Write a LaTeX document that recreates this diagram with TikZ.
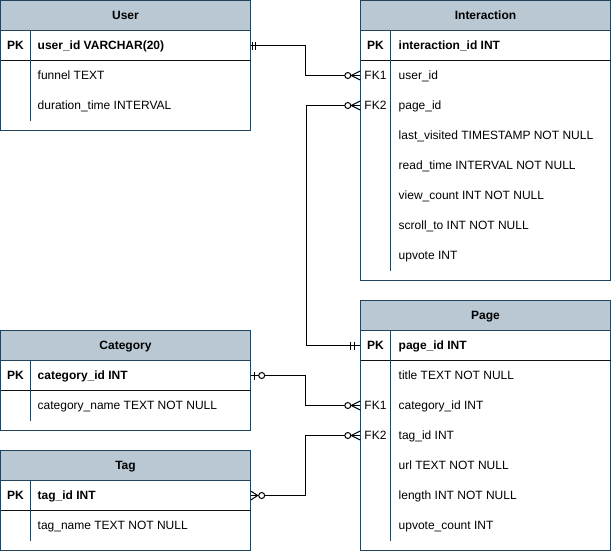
\documentclass[tikz,border=0pt]{standalone}
\usepackage{fontspec}
\setmainfont{Liberation Sans}
\definecolor{tblline}{HTML}{23445D}
\definecolor{hdrfill}{HTML}{BAC8D3}
\definecolor{sepline}{HTML}{111111}
\tikzset{
  tbl/.style={draw=tblline, line width=1pt},
  hdrbox/.style={tbl, fill=hdrfill},
  bodybox/.style={tbl, fill=white},
  sep/.style={draw=sepline, line width=1pt},
  divider/.style={draw=tblline, line width=1pt},
  rowbox/.style={draw=none, minimum width=250pt, minimum height=30pt, inner sep=0pt},
  txtbase/.style={inner sep=0pt, text height=8.6pt, text depth=0pt},
  titletxt/.style={txtbase, font=\bfseries\fontsize{12}{14}\selectfont},
  keytxt/.style={txtbase, font=\fontsize{12}{14}\selectfont},
  pkkey/.style={txtbase, font=\bfseries\fontsize{12}{14}\selectfont},
  fld/.style={txtbase, anchor=west, font=\fontsize{12}{14}\selectfont},
  pkfld/.style={fld, font=\bfseries\fontsize{12}{14}\selectfont},
  conn/.style={draw=black, line width=1pt},
  endmark/.style={draw=black, line width=1pt},
  ring/.style={draw=black, line width=1pt, fill=white},
}
\begin{document}
\begin{tikzpicture}[x=1pt,y=-1pt]
\useasboundingbox (0,0) rectangle (611,552);

% ---------------- User ----------------
\draw[bodybox] (0.5,30.5) rectangle (250.5,130.5);
\draw[hdrbox] (0.5,0.5) rectangle (250.5,30.5);
\draw[sep] (0.5,60.5) -- (250.5,60.5);
\draw[divider] (30.5,30.5) -- (30.5,60.5);
\draw[divider] (30.5,60.5) -- (30.5,120.5);
\node[titletxt] (u-title) at (125.5,15.5) {User};
\node[rowbox] (u-pk) at (125.5,45.5) {};
\node[pkkey] (u-pk-k) at (15.5,45.5) {PK};
\node[pkfld] (u-pk-f) at (37.5,45.5) {user\_id VARCHAR(20)};
\node[fld] (u-r1) at (37.5,75.5) {funnel TEXT};
\node[fld] (u-r2) at (37.5,105.5) {duration\_time INTERVAL};

% ---------------- Interaction ----------------
\draw[bodybox] (360.5,30.5) rectangle (610.5,280.5);
\draw[hdrbox] (360.5,0.5) rectangle (610.5,30.5);
\draw[sep] (360.5,60.5) -- (610.5,60.5);
\draw[divider] (390.5,30.5) -- (390.5,60.5);
\draw[divider] (390.5,60.5) -- (390.5,270.5);
\node[titletxt] (i-title) at (485.5,15.5) {Interaction};
\node[rowbox] (i-pk) at (485.5,45.5) {};
\node[pkkey] (i-pk-k) at (375.5,45.5) {PK};
\node[pkfld] (i-pk-f) at (398.5,45.5) {interaction\_id INT};
\node[rowbox] (i-fk1) at (485.5,75.5) {};
\node[keytxt] (i-fk1-k) at (375.5,75.5) {FK1};
\node[fld] (i-fk1-f) at (398.5,75.5) {user\_id};
\node[rowbox] (i-fk2) at (485.5,105.5) {};
\node[keytxt] (i-fk2-k) at (375.5,105.5) {FK2};
\node[fld] (i-fk2-f) at (398.5,105.5) {page\_id};
\node[fld] (i-r3) at (398.5,135.5) {last\_visited TIMESTAMP NOT NULL};
\node[fld] (i-r4) at (398.5,165.5) {read\_time INTERVAL NOT NULL};
\node[fld] (i-r5) at (398.5,195.5) {view\_count INT NOT NULL};
\node[fld] (i-r6) at (398.5,225.5) {scroll\_to INT NOT NULL};
\node[fld] (i-r7) at (398.5,255.5) {upvote INT};

% ---------------- Page ----------------
\draw[bodybox] (360.5,330.5) rectangle (610.5,550.5);
\draw[hdrbox] (360.5,300.5) rectangle (610.5,330.5);
\draw[sep] (360.5,360.5) -- (610.5,360.5);
\draw[divider] (390.5,330.5) -- (390.5,360.5);
\draw[divider] (390.5,360.5) -- (390.5,540.5);
\node[titletxt] (p-title) at (485.5,315.5) {Page};
\node[rowbox] (p-pk) at (485.5,345.5) {};
\node[pkkey] (p-pk-k) at (375.5,345.5) {PK};
\node[pkfld] (p-pk-f) at (398.5,345.5) {page\_id INT};
\node[fld] (p-r1) at (398.5,375.5) {title TEXT NOT NULL};
\node[rowbox] (p-fk1) at (485.5,405.5) {};
\node[keytxt] (p-fk1-k) at (375.5,405.5) {FK1};
\node[fld] (p-fk1-f) at (398.5,405.5) {category\_id INT};
\node[rowbox] (p-fk2) at (485.5,435.5) {};
\node[keytxt] (p-fk2-k) at (375.5,435.5) {FK2};
\node[fld] (p-fk2-f) at (398.5,435.5) {tag\_id INT};
\node[fld] (p-r4) at (398.5,465.5) {url TEXT NOT NULL};
\node[fld] (p-r5) at (398.5,495.5) {length INT NOT NULL};
\node[fld] (p-r6) at (398.5,525.5) {upvote\_count INT};

% ---------------- Category ----------------
\draw[bodybox] (0.5,360.5) rectangle (250.5,430.5);
\draw[hdrbox] (0.5,330.5) rectangle (250.5,360.5);
\draw[sep] (0.5,390.5) -- (250.5,390.5);
\draw[divider] (30.5,360.5) -- (30.5,390.5);
\draw[divider] (30.5,390.5) -- (30.5,420.5);
\node[titletxt] (c-title) at (125.5,345.5) {Category};
\node[rowbox] (c-pk) at (125.5,375.5) {};
\node[pkkey] (c-pk-k) at (15.5,375.5) {PK};
\node[pkfld] (c-pk-f) at (37.5,375.5) {category\_id INT};
\node[fld] (c-r1) at (37.5,405.5) {category\_name TEXT NOT NULL};

% ---------------- Tag ----------------
\draw[bodybox] (0.5,480.5) rectangle (250.5,550.5);
\draw[hdrbox] (0.5,450.5) rectangle (250.5,480.5);
\draw[sep] (0.5,510.5) -- (250.5,510.5);
\draw[divider] (30.5,480.5) -- (30.5,510.5);
\draw[divider] (30.5,510.5) -- (30.5,540.5);
\node[titletxt] (t-title) at (125.5,465.5) {Tag};
\node[rowbox] (t-pk) at (125.5,495.5) {};
\node[pkkey] (t-pk-k) at (15.5,495.5) {PK};
\node[pkfld] (t-pk-f) at (37.5,495.5) {tag\_id INT};
\node[fld] (t-r1) at (37.5,525.5) {tag\_name TEXT NOT NULL};

% ---------------- Connectors ----------------
\draw[conn] (u-pk.east) -- ++(55,0) |- (i-fk1.west);
\draw[conn] (i-fk2.west) -- ++(-54,0) |- (p-pk.west);
\draw[conn] (c-pk.east) -- ++(55,0) |- (p-fk1.west);
\draw[conn] (t-pk.east) -- ++(55,0) |- (p-fk2.west);

% ---------------- End markers ----------------
% User side: exactly one
\begin{scope}[shift={(u-pk.east)}]
  \draw[endmark] (2,-4) -- (2,4) (5,-4) -- (5,4);
\end{scope}
% Page PK side: exactly one
\begin{scope}[shift={(p-pk.west)}]
  \draw[endmark] (-9.5,-4) -- (-9.5,4) (-5.5,-4) -- (-5.5,4);
\end{scope}
% zero-or-many at Interaction FK1, FK2, Page FK1, FK2
\foreach \n in {i-fk1,i-fk2,p-fk1,p-fk2}{
  \begin{scope}[shift={(\n.west)}]
    \draw[endmark] (-9,0) -- (0,-4.5) (-9,0) -- (0,4.5);
    \draw[ring] (-12.5,0) circle[radius=3];
  \end{scope}
}
% Category side: zero or one
\begin{scope}[shift={(c-pk.east)}]
  \draw[endmark] (3.5,-4) -- (3.5,4);
  \draw[ring] (11,0) circle[radius=3];
\end{scope}
% Tag side: zero or many
\begin{scope}[shift={(t-pk.east)}]
  \draw[endmark] (0,-4.5) -- (7,0) (0,4.5) -- (7,0);
  \draw[ring] (11,0) circle[radius=3];
\end{scope}
\end{tikzpicture}
\end{document}
